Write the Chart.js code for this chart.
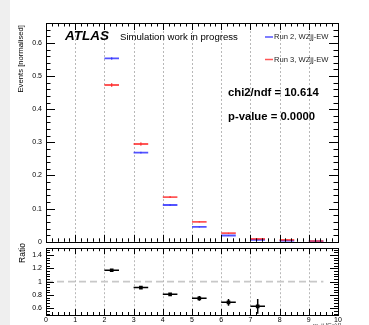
<!DOCTYPE html>
<html>
<head>
<meta charset="utf-8">
<script src="https://cdn.jsdelivr.net/npm/chart.js@4.4.1/dist/chart.umd.min.js"></script>
<style>
html,body{margin:0;padding:0;background:#fff;width:369px;height:325px;overflow:hidden;}
#strip{position:absolute;left:0;top:0;width:10px;height:325px;background:#efefef;}
canvas{position:absolute;left:0;}
#top{top:0;}
#ratio{top:240px;}
</style>
</head>
<body>
<div id="strip"></div>
<canvas id="top" width="369" height="250"></canvas>
<canvas id="ratio" width="369" height="85"></canvas>
<script>
// ---- data ----
const binLow = [2, 3, 4, 5, 6, 7, 8, 9];
const binHigh = [2.5, 3.5, 4.5, 5.5, 6.5, 7.5, 8.5, 9.5];
const run2 = [0.553, 0.269, 0.111, 0.045, 0.019, 0.006, 0.003, 0.001];
const run2Err = [0.004, 0.003, 0.002, 0.0015, 0.001, 0.001, 0.0005, 0.0005];
const run3 = [0.473, 0.295, 0.135, 0.060, 0.026, 0.009, 0.006, 0.002];
const run3Err = [0.006, 0.005, 0.003, 0.002, 0.0015, 0.001, 0.0008, 0.0005];
const ratio = [1.17, 0.91, 0.81, 0.75, 0.69, 0.63];
const ratioErr = [0.012, 0.015, 0.02, 0.035, 0.05, 0.11];
const xTicks = [0, 1, 2, 3, 4, 5, 6, 7, 8, 9, 10];
const yTopTicks = [0, 0.1, 0.2, 0.3, 0.4, 0.5, 0.6];
const yRatioTicks = [0.6, 0.8, 1, 1.2, 1.4];
const gridX = [1, 2, 3, 4, 5, 6, 7, 8, 9];
const labels = {
  atlas: "ATLAS",
  sim: "Simulation work in progress",
  leg2: "Run 2, WZjj-EW",
  leg3: "Run 3, WZjj-EW",
  chi: "chi2/ndf = 10.614",
  pval: "p-value = 0.0000",
  yTop: "Events [normalised]",
  yRatio: "Ratio",
  xTitle: "m_jj [GeV]"
};

const FONT = "'Liberation Sans', Arial, Helvetica, sans-serif";
const BLUE = "rgba(40,40,255,0.8)";
const RED = "rgba(255,30,30,0.75)";

function hSegs(vals, n) {
  const out = [];
  for (let i = 0; i < n; i++) {
    out.push({x: binLow[i], y: vals[i]}, {x: binHigh[i], y: vals[i]}, {x: binHigh[i], y: null});
  }
  return out;
}
function vSegs(vals, errs, n) {
  const out = [];
  for (let i = 0; i < n; i++) {
    const c = (binLow[i] + binHigh[i]) / 2;
    out.push({x: c, y: vals[i] - errs[i]}, {x: c, y: vals[i] + errs[i]}, {x: c, y: null});
  }
  return out;
}
function centers(vals, n) {
  const out = [];
  for (let i = 0; i < n; i++) out.push({x: (binLow[i] + binHigh[i]) / 2, y: vals[i]});
  return out;
}
function seg(data, color, width, order, dash) {
  return {type: 'line', data, borderColor: color, borderWidth: width, pointRadius: 0,
    spanGaps: false, order, borderDash: dash || [], fill: false, tension: 0};
}
const fmt = v => String(+(+v).toFixed(2));

// frame + inward ticks + dotted grid
function framePlugin(cfg) {
  return {
    id: 'frame',
    beforeDatasetsDraw(chart) {
      const {ctx, chartArea: a, scales: {x, y}} = chart;
      ctx.save();
      ctx.strokeStyle = '#b8b8b8';
      ctx.lineWidth = 1;
      ctx.setLineDash([2, 2]);
      gridX.forEach(v => {
        const px = Math.round(x.getPixelForValue(v)) + 0.5;
        ctx.beginPath(); ctx.moveTo(px, a.top); ctx.lineTo(px, a.bottom); ctx.stroke();
      });
      ctx.restore();
    },
    afterDraw(chart) {
      const {ctx, chartArea: a, scales: {x, y}} = chart;
      ctx.save();
      ctx.strokeStyle = '#000';
      ctx.lineWidth = 1;
      ctx.strokeRect(Math.round(a.left) + 0.5, Math.round(a.top) + 0.5,
        Math.round(a.right - a.left), Math.round(a.bottom - a.top));
      ctx.beginPath();
      const y0 = Math.ceil(y.min / cfg.yMinor - 1e-6);
      for (let k = y0; k * cfg.yMinor <= y.max + 1e-9; k++) {
        const v = k * cfg.yMinor;
        const major = Math.abs(v / cfg.yMajor - Math.round(v / cfg.yMajor)) < 1e-6;
        const len = major ? cfg.yMajLen : cfg.yMajLen / 2;
        const py = Math.round(y.getPixelForValue(v)) + 0.5;
        ctx.moveTo(a.left, py); ctx.lineTo(a.left + len, py);
        ctx.moveTo(a.right, py); ctx.lineTo(a.right - len, py);
      }
      for (let k = 0; k * 0.2 <= 10 + 1e-9; k++) {
        const v = k * 0.2;
        const major = Math.abs(v - Math.round(v)) < 1e-6;
        const len = major ? cfg.xMajLen : cfg.xMajLen / 2;
        const px = Math.round(x.getPixelForValue(v)) + 0.5;
        ctx.moveTo(px, a.bottom); ctx.lineTo(px, a.bottom - len);
        ctx.moveTo(px, a.top); ctx.lineTo(px, a.top + len);
      }
      ctx.stroke();
      ctx.restore();
      if (cfg.texts) cfg.texts(ctx, chart);
    }
  };
}

function topTexts(ctx, chart) {
  ctx.save();
  ctx.fillStyle = '#000';
  ctx.textBaseline = 'alphabetic';
  ctx.font = "italic bold 13.5px " + FONT;
  ctx.fillText(labels.atlas, 65, 39.5);
  ctx.font = "9.6px " + FONT;
  ctx.fillText(labels.sim, 120, 39.5);
  ctx.textBaseline = 'middle';
  ctx.font = "7.6px " + FONT;
  ctx.fillStyle = '#222';
  ctx.fillText(labels.leg2, 274, 37);
  ctx.fillText(labels.leg3, 274, 59.5);
  ctx.lineWidth = 1.5;
  ctx.strokeStyle = BLUE;
  ctx.beginPath(); ctx.moveTo(265, 37); ctx.lineTo(273, 37); ctx.stroke();
  ctx.strokeStyle = RED;
  ctx.beginPath(); ctx.moveTo(265, 59.5); ctx.lineTo(273, 59.5); ctx.stroke();
  ctx.fillStyle = '#000';
  ctx.font = "bold 11.3px " + FONT;
  ctx.fillText(labels.chi, 228, 92.5);
  ctx.fillText(labels.pval, 228, 116.5);
  ctx.save();
  ctx.translate(21, 25);
  ctx.rotate(-Math.PI / 2);
  ctx.font = "7.7px " + FONT;
  ctx.textAlign = 'right';
  ctx.textBaseline = 'middle';
  ctx.fillText(labels.yTop, 0, 0);
  ctx.restore();
  ctx.restore();
}

function ratioTexts(ctx, chart) {
  ctx.save();
  ctx.fillStyle = '#000';
  ctx.translate(23, 13);
  ctx.rotate(-Math.PI / 2);
  ctx.font = "8.5px " + FONT;
  ctx.textAlign = 'center';
  ctx.textBaseline = 'middle';
  ctx.fillText(labels.yRatio, 0, 0);
  ctx.restore();
  ctx.save();
  ctx.fillStyle = '#333';
  ctx.font = "6px " + FONT;
  ctx.textBaseline = 'top';
  ctx.fillText(labels.xTitle, 313, 82);
  ctx.restore();
}

const n = binLow.length;
new Chart(document.getElementById('top'), {
  type: 'line',
  data: {datasets: [
    seg(hSegs(run3, n), RED, 1.8, 0),
    seg(vSegs(run3, run3Err, n), RED, 1.2, 0),
    seg(hSegs(run2, n), BLUE, 1.8, 1),
    seg(vSegs(run2, run2Err, n), BLUE, 1.2, 1)
  ]},
  options: {
    responsive: false, animation: false, devicePixelRatio: 1,
    layout: {padding: {left: 0, right: 31, top: 23, bottom: 5}},
    plugins: {legend: {display: false}, tooltip: {enabled: false}},
    scales: {
      x: {type: 'linear', min: 0, max: 10, display: false},
      y: {type: 'linear', min: 0, max: 0.66,
        grid: {display: false, drawTicks: false}, border: {display: false},
        afterBuildTicks: s => { s.ticks = yTopTicks.map(v => ({value: v})); },
        ticks: {padding: 4, color: '#000', font: {family: FONT, size: 7}, callback: fmt},
        afterFit: s => { s.width = 46; }
      }
    }
  },
  plugins: [framePlugin({yMinor: 0.02, yMajor: 0.1, yMajLen: 9, xMajLen: 7, texts: topTexts})]
});

const nr = ratio.length;
new Chart(document.getElementById('ratio'), {
  type: 'line',
  data: {datasets: [
    seg([{x: 0, y: 1}, {x: 9.5, y: 1}], '#c8c8c8', 1.6, 5, [7, 4]),
    seg(hSegs(ratio, nr), '#000', 1.5, 0),
    seg(vSegs(ratio, ratioErr, nr), '#000', 1.5, 0),
    {type: 'scatter', data: centers(ratio, nr), pointStyle: 'rect', pointRadius: 2.6,
      backgroundColor: '#000', borderColor: '#000', borderWidth: 0, showLine: false, order: 0}
  ]},
  options: {
    responsive: false, animation: false, devicePixelRatio: 1,
    layout: {padding: {left: 0, right: 31, top: 4, bottom: 0}},
    plugins: {legend: {display: false}, tooltip: {enabled: false}},
    scales: {
      x: {type: 'linear', min: 0, max: 10,
        grid: {display: false, drawTicks: false}, border: {display: false},
        afterBuildTicks: s => { s.ticks = xTicks.map(v => ({value: v})); },
        ticks: {padding: 1, color: '#000', font: {family: FONT, size: 7}, maxRotation: 0,
          autoSkip: false, callback: fmt},
        afterFit: s => { s.height = 10; }
      },
      y: {type: 'linear', min: 0.5, max: 1.5,
        grid: {display: false, drawTicks: false}, border: {display: false},
        afterBuildTicks: s => { s.ticks = yRatioTicks.map(v => ({value: v})); },
        ticks: {padding: 4, color: '#000', font: {family: FONT, size: 7}, autoSkip: false,
          callback: fmt},
        afterFit: s => { s.width = 46; }
      }
    }
  },
  plugins: [framePlugin({yMinor: 0.04, yMajor: 0.2, yMajLen: 8, xMajLen: 6, texts: ratioTexts})]
});
</script>
</body>
</html>
